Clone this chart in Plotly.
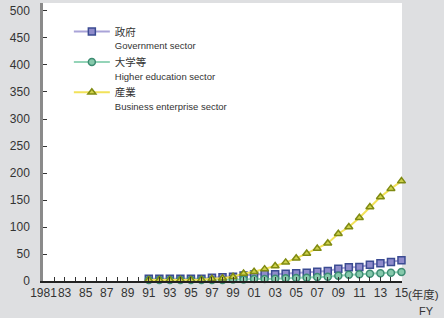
import plotly.graph_objects as go

years = list(range(1991, 2016))
gov = [4, 4, 4, 4, 4, 4, 6, 7, 8, 10, 12, 13, 12.5, 13.6, 14.3, 15.4, 17.3, 18.5, 22.9, 25.3, 26, 30.2, 32.7, 35, 38.5]
higher = [2, 2, 2, 2, 2, 2, 2, 2, 3, 3, 3.5, 3.5, 4, 5, 5.5, 6, 7.4, 8, 9.9, 11.7, 12.3, 13.6, 14.2, 15.4, 16.7]
business = [2, 2, 2, 2, 2, 2.5, 4, 5, 8, 14, 17, 22, 27.8, 34.5, 42, 51, 60, 70, 87.6, 100, 117, 137, 155.5, 171, 185]

names_jp = ["政府", "大学等", "産業"]
names_en = ["Government sector", "Higher education sector", "Business enterprise sector"]

tick_years = list(range(1981, 2016))
tick_text = [("1981" if y == 1981 else f"{y % 100:02d}") if (y - 1981) % 2 == 0 else "" for y in tick_years]

y_ticks = list(range(0, 501, 50))

styles = [
    dict(line="#a9a3d8", fill="#8f8bcb", edge="#3b4b92", symbol="square"),
    dict(line="#94d4b8", fill="#86c9ab", edge="#3d8c72", symbol="circle"),
    dict(line="#f2e25a", fill="#cdd04a", edge="#7f8a12", symbol="triangle-up"),
]

fig = go.Figure()
for vals, jp, en, st in zip([gov, higher, business], names_jp, names_en, styles):
    fig.add_trace(go.Scatter(
        x=years, y=vals, mode="lines+markers",
        name=f"{jp}<br><span style='font-size:9.5px'>{en}</span>",
        line=dict(color=st["line"], width=2),
        marker=dict(symbol=st["symbol"], size=7, color=st["fill"],
                    line=dict(color=st["edge"], width=1.5)),
        cliponaxis=False,
    ))

fig.update_layout(
    width=444, height=318,
    margin=dict(l=43, r=42, t=3, b=37),
    paper_bgcolor="#dedfe1",
    plot_bgcolor="#ffffff",
    font=dict(family="Liberation Sans, Arial, Noto Sans CJK JP", color="#333333", size=12),
    showlegend=True,
    legend=dict(x=0.072, y=0.945, xanchor="left", yanchor="top",
                bgcolor="rgba(0,0,0,0)", valign="top",
                font=dict(size=10.5, family="Liberation Sans, Noto Sans CJK JP", color="#333"),
                tracegroupgap=0, itemwidth=36),
    xaxis=dict(range=[1980.95, 2015.05], tickmode="array", tickvals=tick_years, ticktext=tick_text,
               tickangle=0,
               ticks="inside", ticklen=4, tickcolor="#333", showgrid=False, zeroline=False,
               showline=True, linecolor="#222", linewidth=1.5, tickfont=dict(size=12)),
    yaxis=dict(range=[0, 514.8], tickmode="array", tickvals=y_ticks,
               ticks="inside", ticklen=4, tickcolor="#333", showgrid=False, zeroline=False,
               showline=True, linecolor="#8a8a8a", linewidth=2.5, ticklabelstandoff=8,
               tickfont=dict(size=12)),
    annotations=[
        dict(x=1.11, y=-0.05, xref="paper", yref="paper", text="(年度)", showarrow=False,
             xanchor="right", yanchor="middle", font=dict(size=11.5, family="Liberation Sans, Noto Sans CJK JP")),
        dict(x=1.095, y=-0.108, xref="paper", yref="paper", text="FY", showarrow=False,
             xanchor="right", yanchor="middle", font=dict(size=11)),
    ],
)

fig.write_html("out.html", config={"displayModeBar": False},
               post_script="document.body.style.margin='0';")
